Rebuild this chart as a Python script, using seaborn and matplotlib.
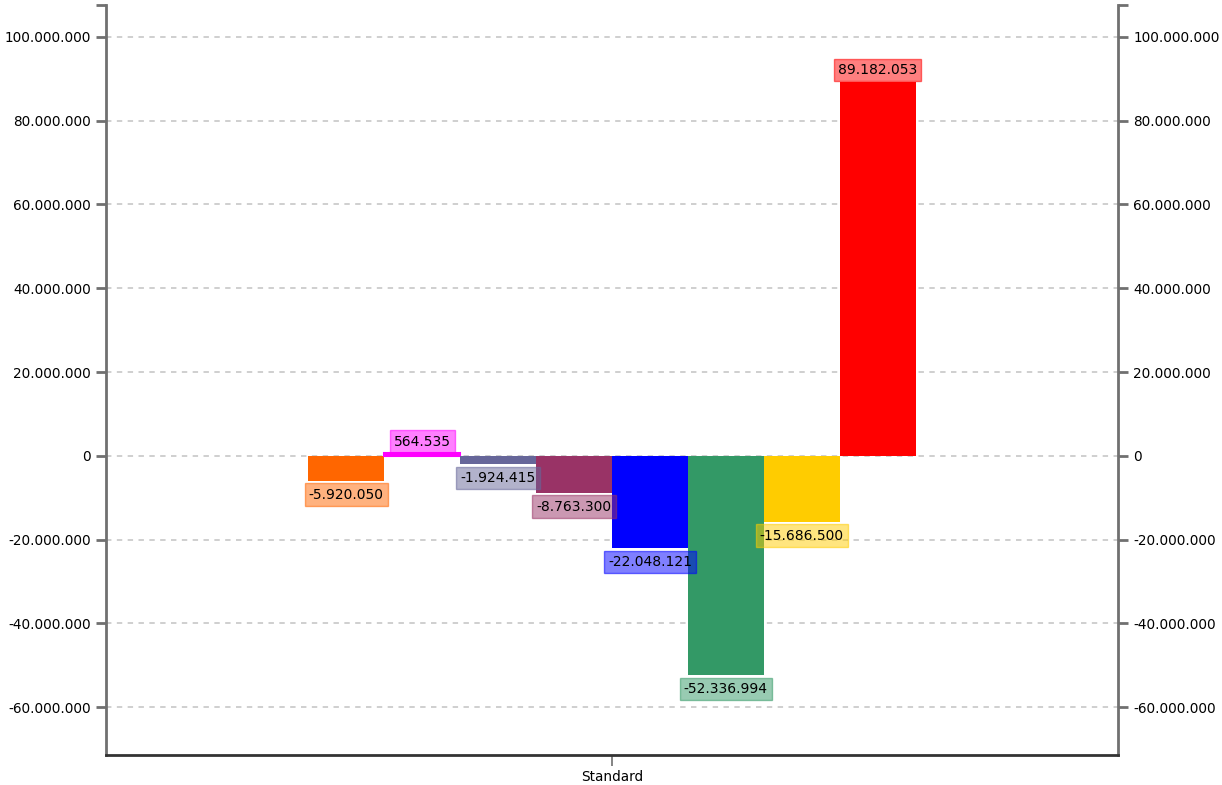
import pandas as pd
import seaborn as sns
import matplotlib.pyplot as plt
from matplotlib.colors import to_rgba
from matplotlib.ticker import FuncFormatter

categories = ["Standard"]
series = ["Serie 1", "Serie 2", "Serie 3", "Serie 4",
          "Serie 5", "Serie 6", "Serie 7", "Serie 8"]
values = [-5920050, 564535, -1924415, -8763300,
          -22048121, -52336994, -15686500, 89182053]
colors = ["#FF6600", "#FF00FF", "#666699", "#993366",
          "#0000FF", "#339966", "#FFCC00", "#FF0000"]
yticks = [-60000000, -40000000, -20000000, 0,
          20000000, 40000000, 60000000, 80000000, 100000000]

df = pd.DataFrame({
    "category": categories * len(series),
    "series": series,
    "value": values,
})


def fmt(v, pos=None):
    return f"{v:,.0f}".replace(",", ".")


sns.set_style("white")
plt.rcParams["font.family"] = ["DejaVu Sans"]

fig = plt.figure(figsize=(12.22, 7.85), dpi=100)
ax = fig.add_axes([0.0867, 0.0382, 0.8282, 0.9554])

sns.barplot(
    data=df,
    x="category",
    y="value",
    hue="series",
    palette=colors,
    saturation=1,
    width=0.6,
    linewidth=0,
    legend=False,
    ax=ax,
)

ax.set_xlim(-0.5, 0.5)
ylim = (-71400000, 107600000)
ax.set_ylim(*ylim)
ax.set_yticks(yticks)
ax.yaxis.set_major_formatter(FuncFormatter(fmt))
ax.set_yticks([ylim[1]], minor=True)
ax.set_xlabel("")
ax.set_ylabel("")

ax.grid(axis="y", color="#cccccc", linestyle=(0, (3, 3)), linewidth=1.3)
ax.set_axisbelow(True)

for side in ["left", "right"]:
    ax.spines[side].set_color("#707070")
    ax.spines[side].set_linewidth(2)
ax.spines["top"].set_visible(False)
ax.spines["bottom"].set_color("#333333")
ax.spines["bottom"].set_linewidth(2)

ax.tick_params(axis="y", which="both", left=True, right=True,
               labelright=True, length=7, width=2, color="#707070",
               labelsize=9.8, pad=4, labelcolor="black")
ax.tick_params(axis="x", bottom=True, length=8, width=1.2,
               color="#707070", labelsize=9.8, pad=3, labelcolor="black")

# value labels
for bar, v, c in zip(ax.patches, values, colors):
    x = bar.get_x() + bar.get_width() / 2
    if v >= 0:
        off, va = 3.5, "bottom"
    else:
        off, va = -5, "top"
    ax.annotate(
        fmt(v), (x, v), xytext=(0, off), textcoords="offset points",
        ha="center", va=va, fontsize=10, color="black",
        bbox=dict(boxstyle="square,pad=0.3", facecolor=to_rgba(c, 0.5),
                  edgecolor=to_rgba(c, 0.55), linewidth=1),
    )

# small pink bar outline to make it visible
pink = ax.patches[1]
pink.set_edgecolor("#FF00FF")
pink.set_linewidth(1.5)

plt.savefig("out.png", dpi=100)
